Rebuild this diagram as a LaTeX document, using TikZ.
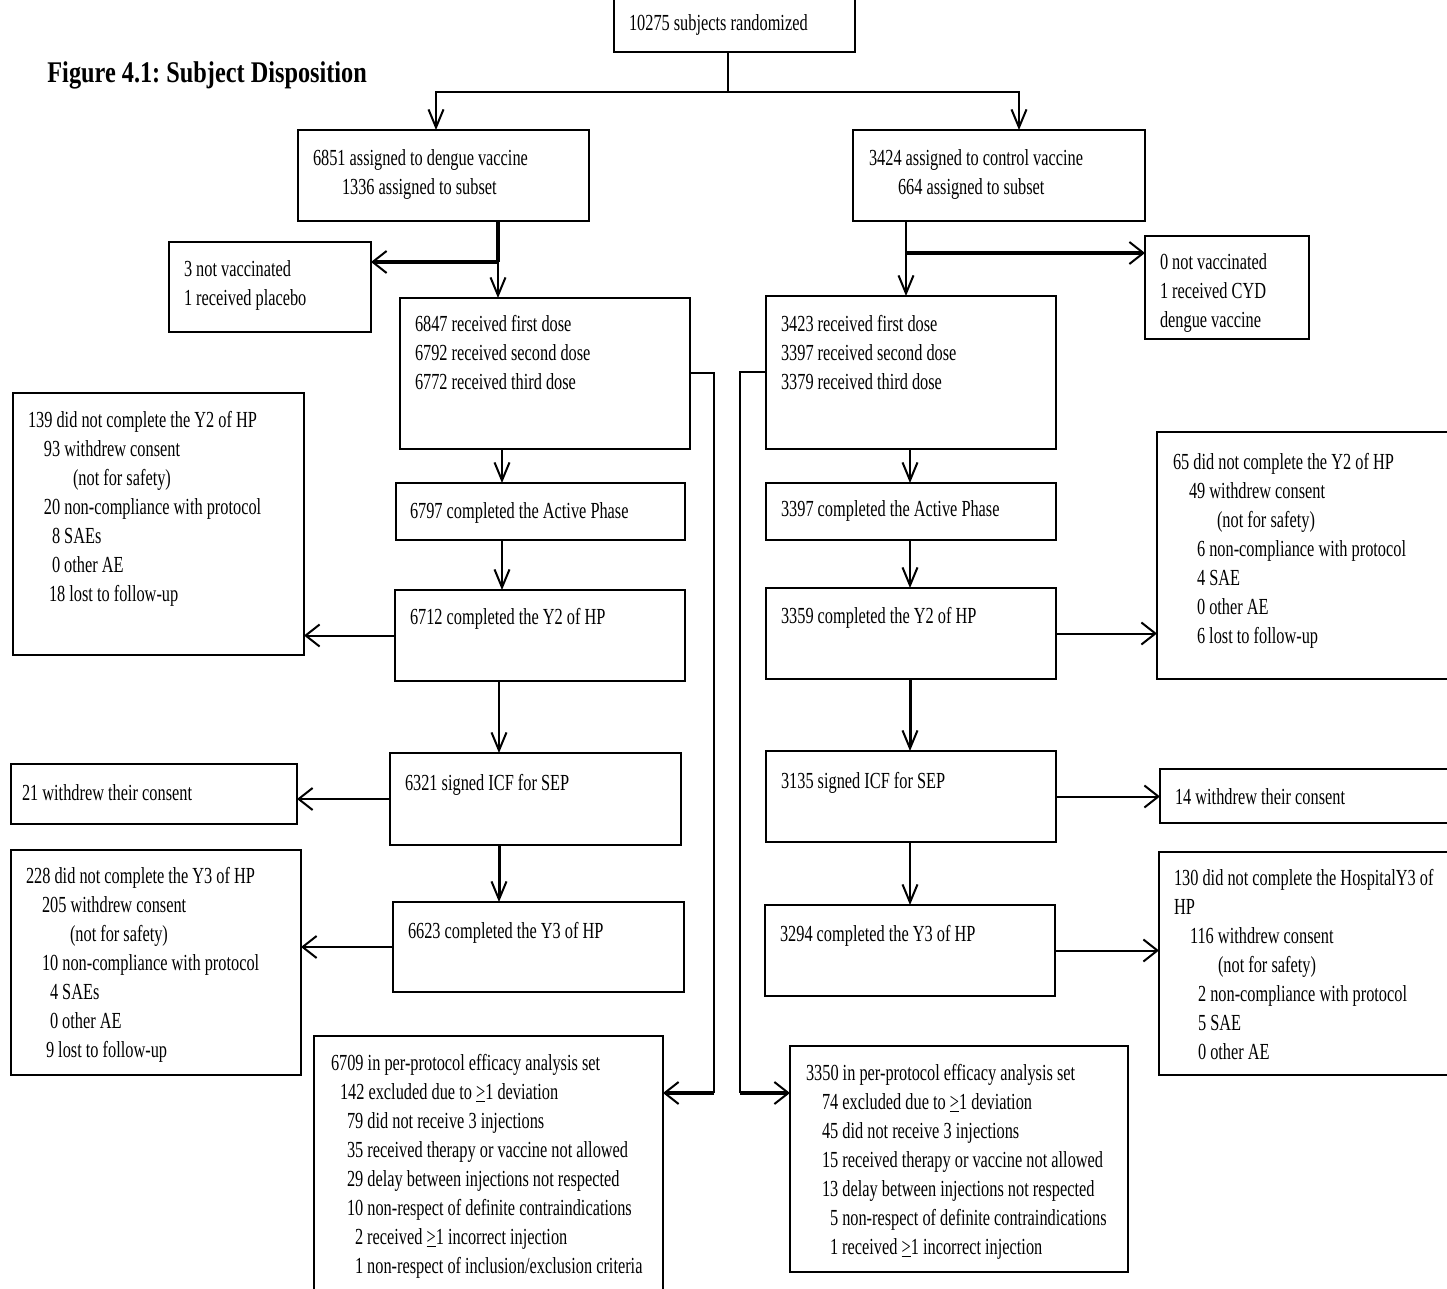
\documentclass[tikz,border=0pt]{standalone}
\usepackage{fontspec}
\setmainfont[FakeStretch=0.71]{Liberation Serif}
\newfontfamily\titlefont[FakeStretch=0.81]{Liberation Serif}
\usetikzlibrary{arrows.meta}
\frenchspacing
\tikzset{
 box/.style={draw, line width=1.1pt, inner sep=0pt, outer sep=0pt},
 txt/.style={inner sep=0pt, outer sep=0pt, align=left, font=\fontsize{11.5}{14.5}\selectfont},
 conn/.style={line width=1pt},
 thk/.style={line width=2pt},
 mid/.style={line width=1.5pt},
 varr/.style={-{Straight Barb[length=9pt,width=7.5pt,line width=1pt]}},
 harr/.style={-{Straight Barb[length=7pt,width=11pt,line width=1pt]}},
}
\newcommand\mkbox[5]{\node[box,anchor=north west,minimum width={(#4-#2)*0.5pt},minimum height={(#5-#3)*0.5pt}] (#1) at (#2,#3) {};}
\newcommand\mktxt[4]{\node[txt,anchor=north west] (#1) at (#2,#3-20.3) {\strut#4};}
\newcommand\geone{\underline{>}1}
\begin{document}
\begin{tikzpicture}[x=0.5pt,y=-0.5pt]
\useasboundingbox[fill=white] (0,0) rectangle (1447,1289);
\node[anchor=base west,inner sep=0pt,font=\titlefont\bfseries\fontsize{15}{18}\selectfont] (title) at (47,83) {Figure 4.1: Subject Disposition};
% boxes
\mkbox{T}{614}{-4}{855}{52}
\mkbox{A}{298}{130}{589}{221}
\mkbox{B}{853}{130}{1145}{221}
\mkbox{NV1}{169}{242}{371}{332}
\mkbox{NV2}{1145}{236}{1309}{339}
\mkbox{C}{400}{298}{690}{449}
\mkbox{D}{766}{296}{1056}{449}
\mkbox{E}{396}{483}{685}{540}
\mkbox{F}{766}{483}{1056}{540}
\mkbox{G}{395}{590}{685}{681}
\mkbox{H}{766}{588}{1056}{679}
\mkbox{L1}{13}{393}{304}{655}
\mkbox{R1}{1157}{432}{1452}{679}
\mkbox{I}{390}{753}{681}{845}
\mkbox{J}{766}{751}{1056}{842}
\mkbox{W1}{11}{764}{297}{824}
\mkbox{W2}{1160}{769}{1452}{823}
\mkbox{K}{393}{902}{684}{992}
\mkbox{L}{765}{905}{1055}{996}
\mkbox{L3}{11}{850}{301}{1075}
\mkbox{R3}{1159}{852}{1452}{1075}
\mkbox{P1}{314}{1036}{663}{1298}
\mkbox{P2}{790}{1046}{1128}{1272}
% texts
\mktxt{Tt}{629}{31}{10275 subjects randomized}
\mktxt{At}{313}{166}{6851 assigned to dengue vaccine\\\hspace*{14.5pt}1336 assigned to subset}
\mktxt{Bt}{869}{166}{3424 assigned to control vaccine\\\hspace*{14.5pt}664 assigned to subset}
\mktxt{NV1t}{184}{277}{3 not vaccinated\\1 received placebo}
\mktxt{NV2t}{1160}{270}{0 not vaccinated\\1 received CYD\\dengue vaccine}
\mktxt{Ct}{415}{332}{6847 received first dose\\6792 received second dose\\6772 received third dose}
\mktxt{Dt}{781}{332}{3423 received first dose\\3397 received second dose\\3379 received third dose}
\mktxt{Et}{410}{518}{6797 completed the Active Phase}
\mktxt{Ft}{781}{517}{3397 completed the Active Phase}
\mktxt{Gt}{410}{624}{6712 completed the Y2 of HP}
\mktxt{Ht}{781}{623}{3359 completed the Y2 of HP}
\mktxt{L1t}{28}{427}{139 did not complete the Y2 of HP\\\hspace*{8pt}93 withdrew consent\\\hspace*{22.5pt}(not for safety)\\\hspace*{8pt}20 non-compliance with protocol\\\hspace*{12pt}8 SAEs\\\hspace*{12pt}0 other AE\\\hspace*{10.5pt}18 lost to follow-up}
\mktxt{R1t}{1173}{469}{65 did not complete the Y2 of HP\\\hspace*{8pt}49 withdrew consent\\\hspace*{22pt}(not for safety)\\\hspace*{12pt}6 non-compliance with protocol\\\hspace*{12pt}4 SAE\\\hspace*{12pt}0 other AE\\\hspace*{12pt}6 lost to follow-up}
\mktxt{It}{405}{790}{6321 signed ICF for SEP}
\mktxt{Jt}{781}{788}{3135 signed ICF for SEP}
\mktxt{W1t}{22}{800}{21 withdrew their consent}
\mktxt{W2t}{1175}{804}{14 withdrew their consent}
\mktxt{Kt}{408}{938}{6623 completed the Y3 of HP}
\mktxt{Lt}{780}{941}{3294 completed the Y3 of HP}
\mktxt{L3t}{26}{883}{228 did not complete the Y3 of HP\\\hspace*{8pt}205 withdrew consent\\\hspace*{22pt}(not for safety)\\\hspace*{8pt}10 non-compliance with protocol\\\hspace*{12pt}4 SAEs\\\hspace*{12pt}0 other AE\\\hspace*{10pt}9 lost to follow-up}
\mktxt{R3t}{1174}{885}{130 did not complete the HospitalY3 of\\HP\\\hspace*{8pt}116 withdrew consent\\\hspace*{22pt}(not for safety)\\\hspace*{12pt}2 non-compliance with protocol\\\hspace*{12pt}5 SAE\\\hspace*{12pt}0 other AE}
\mktxt{P1t}{331}{1070}{6709 in per-protocol efficacy analysis set\\\hspace*{4.5pt}142 excluded due to \geone{} deviation\\\hspace*{8pt}79 did not receive 3 injections\\\hspace*{8pt}35 received therapy or vaccine not allowed\\\hspace*{8pt}29 delay between injections not respected\\\hspace*{8pt}10 non-respect of definite contraindications\\\hspace*{12pt}2 received \geone{} incorrect injection\\\hspace*{12pt}1 non-respect of inclusion/exclusion criteria}
\mktxt{P2t}{806}{1080}{3350 in per-protocol efficacy analysis set\\\hspace*{8pt}74 excluded due to \geone{} deviation\\\hspace*{8pt}45 did not receive 3 injections\\\hspace*{8pt}15 received therapy or vaccine not allowed\\\hspace*{8pt}13 delay between injections not respected\\\hspace*{12pt}5 non-respect of definite contraindications\\\hspace*{12pt}1 received \geone{} incorrect injection}
% connectors
\coordinate (split) at (728,92);
\coordinate (colA) at (436,0);
\coordinate (colB) at (1019,0);
\draw[conn] (T.south -| split) -- (split);
\draw[conn,varr] (split) -| (A.north -| colA);
\draw[conn,varr] (split) -| (B.north -| colB);
\coordinate (bl) at (498,262);
\draw[thk] (A.south -| bl) -- (bl);
\draw[thk,harr] (bl) -- (NV1.east |- bl);
\draw[conn,varr] (bl) -- (C.north -| bl);
\coordinate (br) at (906,253);
\draw[conn] (B.south -| br) -- (br);
\draw[conn,varr] (br) -- (D.north -| br);
\draw[thk,harr] (br) -- (NV2.west |- br);
\coordinate (cl) at (502,0);
\coordinate (cl2) at (499,0);
\draw[conn,varr] (C.south -| cl) -- (E.north -| cl);
\draw[conn,varr] (E.south -| cl) -- (G.north -| cl);
\draw[conn,varr] (G.south -| cl2) -- (I.north -| cl2);
\draw[mid,varr] (I.south -| cl2) -- (K.north -| cl2);
\coordinate (cr) at (910,0);
\draw[conn,varr] (D.south -| cr) -- (F.north -| cr);
\draw[conn,varr] (F.south -| cr) -- (H.north -| cr);
\draw[mid,varr] (H.south -| cr) -- (J.north -| cr);
\draw[conn,varr] (J.south -| cr) -- (L.north -| cr);
\draw[conn,harr] (G.west) -- (L1.east |- G.west);
\draw[conn,harr] (I.west) -- (W1.east |- I.west);
\draw[conn,harr] (K.west) -- (L3.east |- K.west);
\draw[conn,harr] (H.east) -- (R1.west |- H.east);
\draw[conn,harr] (J.east) -- (W2.west |- J.east);
\draw[conn,harr] (L.east) -- (R3.west |- L.east);
\coordinate (jl) at (714,1093);
\coordinate (jr) at (740,1093);
\draw[conn] (C.east) -| (jl);
\draw[thk,harr] (jl) -- (P1.east |- jl);
\draw[conn] (D.west) -| (jr);
\draw[thk,harr] (jr) -- (P2.west |- jr);
\end{tikzpicture}
\end{document}
